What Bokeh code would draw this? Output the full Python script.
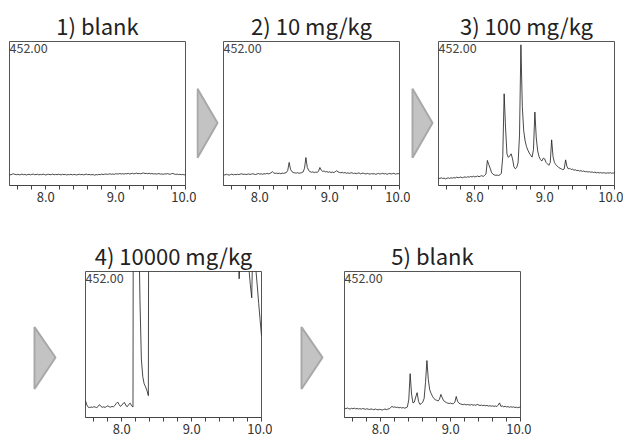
from bokeh.plotting import figure
from bokeh.layouts import row, column
from bokeh.models import Range1d, FixedTicker, Label, NumeralTickFormatter
from bokeh.embed import file_html
from bokeh.resources import INLINE

FONT = "Noto Sans CJK JP"

titles = ["1) blank", "2) 10 mg/kg", "3) 100 mg/kg", "4) 10000 mg/kg", "5) blank"]
channel_label = "452.00"
x_start, x_end = 7.48, 10.0
y_start, y_end = 0, 100
tick_major = [8.0, 9.0, 10.0]
tick_minor = [7.6, 7.8, 8.2, 8.4, 8.6, 8.8, 9.2, 9.4, 9.6, 9.8]

# retention time sampling grid (min), 0.02 min spacing
rt = [round(7.48 + 0.02 * i, 2) for i in range(127)]

# relative intensity (% of panel full scale)
blank_1 = [
    7.6, 7.4, 7.9, 8.1, 7.7, 7.5, 7.8, 7.4, 7.6, 7.9,
    7.5, 7.7, 7.3, 7.6, 7.8, 7.4, 7.7, 7.9, 7.5, 7.6,
    7.8, 7.4, 7.7, 7.5, 7.9, 7.6, 7.3, 7.7, 7.8, 7.5,
    7.6, 7.9, 7.4, 7.7, 7.5, 7.8, 7.6, 7.4, 7.8, 7.5,
    7.7, 7.3, 7.6, 7.5, 7.8, 7.4, 7.7, 7.6, 7.3, 7.6,
    7.8, 7.5, 7.7, 7.4, 7.6, 7.9, 7.5, 7.7, 7.4, 7.6,
    7.5, 7.2, 7.6, 7.4, 7.7, 7.5, 7.9, 7.6, 7.8, 8.0,
    7.7, 7.9, 8.1, 7.8, 8.0, 7.7, 8.2, 7.9, 8.1, 8.3,
    8.0, 8.2, 7.9, 8.3, 8.1, 8.4, 8.0, 8.2, 8.5, 8.1,
    8.3, 8.6, 8.2, 8.4, 8.1, 8.5, 8.7, 8.3, 8.4, 8.2,
    8.5, 8.1, 8.3, 8.0, 8.2, 7.9, 8.1, 8.3, 7.9, 8.0,
    7.8, 8.1, 7.9, 8.3, 8.0, 7.8, 8.2, 8.4, 7.9, 7.7,
    7.9, 7.6, 7.8, 7.5, 7.7, 7.4, 7.5,
]

spike_10 = [
    7.6, 7.3, 7.8, 7.5, 7.2, 7.6, 7.9, 7.4, 7.7, 7.5,
    7.8, 7.6, 7.9, 8.1, 7.7, 7.9, 7.6, 7.8, 8.0, 7.7,
    7.9, 8.2, 7.8, 7.6, 8.0, 8.3, 7.9, 8.1, 7.8, 8.2,
    8.0, 8.4, 8.1, 8.3, 8.8, 9.6, 8.7, 8.4, 8.6, 8.3,
    8.5, 8.2, 8.6, 8.4, 8.7, 9.0, 10.5, 16.0, 11.2, 9.6,
    9.0, 8.8, 8.6, 8.9, 8.5, 8.7, 8.9, 9.4, 12.0, 19.4,
    12.5, 10.4, 9.6, 9.2, 9.5, 8.9, 9.3, 9.1, 9.8, 12.5,
    10.6, 9.8, 10.1, 9.4, 9.7, 9.2, 9.5, 9.0, 9.3, 8.9,
    9.6, 10.2, 9.5, 9.1, 8.8, 9.2, 8.7, 9.0, 8.5, 8.8,
    8.4, 8.7, 8.9, 8.3, 8.6, 8.2, 8.5, 8.8, 8.1, 8.4,
    8.6, 8.2, 8.0, 8.4, 8.1, 7.9, 8.3, 8.0, 8.2, 7.8,
    8.1, 8.4, 7.9, 8.2, 8.5, 8.0, 8.3, 7.8, 8.1, 8.4,
    8.0, 8.2, 8.5, 7.9, 8.1, 8.3, 7.9,
]

spike_100 = [
    5.2, 4.8, 5.4, 4.9, 5.1, 4.6, 5.0, 5.3, 4.9, 5.4,
    5.1, 5.5, 5.2, 5.8, 5.4, 5.6, 5.9, 5.3, 5.7, 6.0,
    5.6, 6.1, 5.8, 6.3, 5.9, 6.4, 6.0, 6.2, 6.6, 6.1,
    6.5, 6.8, 6.3, 7.0, 8.0, 17.4, 14.5, 12.0, 9.0, 7.8,
    7.3, 7.1, 7.2, 7.0, 7.4, 8.5, 20.0, 63.7, 40.0, 22.0,
    19.5, 20.5, 22.0, 18.5, 13.0, 11.6, 12.5, 16.0, 35.0, 97.7,
    55.0, 38.0, 31.0, 27.0, 24.5, 22.5, 21.0, 19.7, 25.0, 51.0,
    33.0, 24.0, 20.0, 18.0, 17.0, 19.0, 18.5, 16.0, 15.0, 14.0,
    16.0, 31.7, 20.0, 16.0, 14.5, 13.5, 12.5, 12.0, 11.5, 11.0,
    11.5, 17.8, 13.0, 11.5, 12.0, 11.0, 11.4, 10.6, 10.9, 10.3,
    10.6, 10.0, 10.3, 9.8, 10.1, 9.5, 9.8, 9.3, 9.6, 9.2,
    9.4, 9.0, 9.3, 8.8, 9.1, 8.7, 9.0, 8.6, 8.9, 8.7,
    8.5, 8.8, 8.6, 8.9, 8.5, 8.7, 8.6,
]

spike_10000 = [
    11.5, 8.5, 7.0, 6.8, 7.2, 6.9, 7.4, 7.1, 6.8, 7.5,
    8.8, 7.6, 7.0, 7.3, 6.9, 7.5, 8.0, 7.4, 7.1, 7.6,
    7.3, 8.2, 9.6, 10.6, 9.0, 7.6, 8.4, 9.8, 10.2, 8.0,
    7.5, 9.0, 9.8, 8.0, 7.2, 700, 900, 650, 140, 80,
    40, 28, 23, 21, 18.5, 15, 600, 950, 800, 700,
    650, 700, 750, 900, 1100, 1000, 950, 1200, 1500, 1800,
    1600, 1400, 1300, 1250, 1200, 1150, 1100, 1150, 1300, 1400,
    1300, 1200, 1100, 1050, 1000, 980, 950, 920, 900, 950,
    1100, 1000, 900, 850, 800, 750, 700, 650, 620, 600,
    640, 560, 520, 480, 450, 420, 400, 380, 360, 340,
    320, 300, 280, 260, 240, 220, 200, 185, 170, 120,
    95, 115, 140, 160, 170, 160, 130, 102, 91, 82,
    130, 160, 101, 90, 78, 67, 56,
]

blank_2 = [
    6.4, 6.0, 6.5, 6.1, 5.8, 6.3, 6.0, 6.4, 5.9, 6.2,
    5.8, 6.1, 5.7, 6.2, 5.9, 5.6, 6.0, 5.7, 5.5, 5.9,
    5.6, 5.3, 5.8, 5.5, 5.2, 5.6, 5.4, 5.1, 5.5, 5.8,
    5.4, 5.7, 6.0, 6.8, 7.6, 7.0, 7.3, 6.8, 7.1, 6.6,
    6.9, 6.5, 6.8, 6.4, 6.7, 7.2, 12.0, 30.0, 16.0, 10.0,
    10.5, 14.0, 17.0, 11.0, 9.0, 9.5, 10.5, 13.0, 24.0, 39.0,
    26.0, 19.0, 16.5, 14.5, 13.0, 12.2, 11.8, 11.3, 12.5, 15.8,
    13.5, 11.5, 10.8, 10.2, 9.8, 9.6, 9.9, 9.4, 9.6, 10.5,
    14.4, 11.0, 9.8, 9.3, 9.0, 8.8, 9.1, 8.6, 8.9, 8.7,
    8.5, 8.9, 8.4, 8.7, 8.3, 9.0, 8.6, 8.2, 8.5, 8.1,
    8.4, 8.0, 8.3, 7.8, 8.1, 7.7, 8.0, 7.6, 7.9, 7.5,
    8.5, 10.0, 7.6, 7.9, 7.3, 7.7, 7.2, 7.5, 7.0, 7.4,
    7.0, 7.3, 6.8, 7.1, 6.7, 7.0, 7.2,
]

series = [blank_1, spike_10, spike_100, spike_10000, blank_2]


def panel(title, y, width, height, bl, br, bt, bb):
    p = figure(width=width, height=height,
               x_range=Range1d(x_start, x_end), y_range=Range1d(y_start, y_end),
               output_backend="svg", toolbar_location=None,
               min_border_left=bl, min_border_right=br,
               min_border_top=bt, min_border_bottom=bb,
               y_axis_location=None, title=title)
    p.title.text_font = FONT
    p.title.text_font_size = "22px"
    p.title.text_font_style = "normal"
    p.title.text_color = "#222222"
    p.title.align = "center"
    p.title.standoff = 2
    p.xgrid.visible = False
    p.ygrid.visible = False
    p.outline_line_color = "#555555"
    p.outline_line_width = 1
    p.background_fill_color = "white"
    p.border_fill_color = "white"
    ax = p.xaxis[0]
    ax.ticker = FixedTicker(ticks=tick_major, minor_ticks=tick_minor)
    ax.formatter = NumeralTickFormatter(format="0.0")
    ax.major_tick_out = 4
    ax.major_tick_in = 0
    ax.minor_tick_out = 4
    ax.minor_tick_in = 0
    ax.axis_line_color = "#444444"
    ax.major_tick_line_color = "#444444"
    ax.minor_tick_line_color = "#444444"
    ax.major_label_text_font = FONT
    ax.major_label_text_font_size = "13px"
    ax.major_label_text_color = "#333333"
    ax.major_label_standoff = 2
    p.line(rt, y, line_color="#1a1a1a", line_width=0.8)
    p.add_layout(Label(x=x_start, y=y_end, text=channel_label,
                       text_baseline="top", text_align="left",
                       text_font=FONT, text_font_size="12.5px",
                       text_color="#444444", y_offset=-1))
    return p


def arrow(width, height, xs, ys):
    p = figure(width=width, height=height,
               x_range=Range1d(0, width), y_range=Range1d(0, height),
               output_backend="svg", toolbar_location=None, min_border=0,
               x_axis_location=None, y_axis_location=None)
    p.xgrid.visible = False
    p.ygrid.visible = False
    p.outline_line_color = None
    p.background_fill_color = "white"
    p.border_fill_color = "white"
    p.patch(xs, ys, fill_color="#c3c3c3", line_color="#a8a8a8", line_width=2)
    return p


# row 1 (frames 176 px wide, 144 px tall)
H1 = 207
p1 = panel(titles[0], series[0], 196, H1, 9, 11, 41, 22)
a1 = arrow(23, H1, [1, 21, 1], [40, 90, 139])
p2 = panel(titles[1], series[1], 191, H1, 4, 11, 41, 22)
a2 = arrow(24, H1, [2, 22, 2], [40, 90, 139])
p3 = panel(titles[2], series[2], 189, H1, 4, 9, 41, 22)

# row 2 (frames 176 px wide, 146 px tall)
H2 = 231
a3 = arrow(58, H2, [34, 55, 34], [45, 95, 143])
p4 = panel(titles[3], series[3], 214, H2, 27, 11, 64, 21)
a4 = arrow(53, H2, [29, 50, 29], [45, 95, 143])
p5 = panel(titles[4], series[4], 206, H2, 19, 11, 64, 21)

layout = column(row(p1, a1, p2, a2, p3, spacing=0),
                row(a3, p4, a4, p5, spacing=0), spacing=0)

open("out.html", "w").write(file_html(layout, INLINE))
